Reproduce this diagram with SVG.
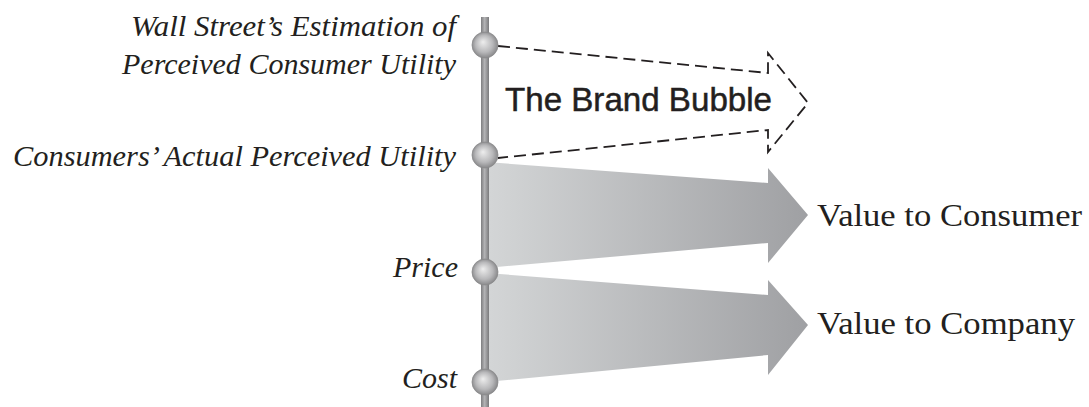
<svg xmlns="http://www.w3.org/2000/svg" width="1089" height="407" viewBox="0 0 1089 407">
  <defs>
    <linearGradient id="arrowGrad" gradientUnits="userSpaceOnUse" x1="490" y1="0" x2="808" y2="0">
      <stop offset="0" stop-color="#d3d5d6"/>
      <stop offset="1" stop-color="#9fa0a3"/>
    </linearGradient>
    <linearGradient id="poleGrad" x1="0" y1="0" x2="1" y2="0">
      <stop offset="0" stop-color="#7d7d7f"/>
      <stop offset="0.45" stop-color="#b3b3b5"/>
      <stop offset="1" stop-color="#7a7a7c"/>
    </linearGradient>
    <radialGradient id="ballGrad" cx="0.5" cy="0.5" r="0.55" fx="0.42" fy="0.38">
      <stop offset="0" stop-color="#eeeeee"/>
      <stop offset="0.6" stop-color="#b8b8ba"/>
      <stop offset="1" stop-color="#7e7e80"/>
    </radialGradient>
  </defs>
  <style>
    .lbl { font-family: "Liberation Serif", "DejaVu Serif", serif; font-style: italic; font-size: 30px; fill: #231f20; }
    .val { font-family: "Liberation Serif", "DejaVu Serif", serif; font-size: 31px; fill: #231f20; }
    .bubble { font-family: "Liberation Sans", Arial, sans-serif; font-size: 33px; fill: #231f20; stroke: #231f20; stroke-width: 0.5; }
    .garrow { fill: url(#arrowGrad); stroke: none; }
    .dash { fill: none; stroke: #231f20; stroke-width: 1.8; stroke-dasharray: 12 6; }
    .ball { fill: url(#ballGrad); stroke: #8a8a8c; stroke-width: 0.8; }
  </style>

  <g id="connectors">
    <polygon id="arrow-consumer" class="garrow" points="486,162 768,183 768,168 808,215 768,263 768,243 486,268"/>
    <polygon id="arrow-company" class="garrow" points="486,273 768,295 768,280 808,325 768,375 768,355 486,382"/>
    <path id="arrow-bubble" class="dash" d="M498,46 L768,73 L768,53 L808,103 L768,152 L768,130 L498,158"/>
  </g>

  <g id="axis">
    <rect x="481" y="17" width="8" height="390" fill="url(#poleGrad)"/>
  </g>

  <g id="node-wallstreet">
    <circle class="ball" cx="485" cy="45" r="13"/>
    <text class="lbl" x="456" y="36" text-anchor="end" textLength="325" lengthAdjust="spacingAndGlyphs">Wall Street’s Estimation of</text>
    <text class="lbl" x="456" y="74" text-anchor="end" textLength="334" lengthAdjust="spacingAndGlyphs">Perceived Consumer Utility</text>
  </g>

  <g id="node-actual">
    <circle class="ball" cx="485" cy="155" r="13"/>
    <text class="lbl" x="456" y="166" text-anchor="end" textLength="443" lengthAdjust="spacingAndGlyphs">Consumers’ Actual Perceived Utility</text>
  </g>

  <g id="node-price">
    <circle class="ball" cx="485" cy="272" r="13"/>
    <text class="lbl" x="458" y="277" text-anchor="end">Price</text>
  </g>

  <g id="node-cost">
    <circle class="ball" cx="485" cy="382" r="13"/>
    <text class="lbl" x="457" y="388" text-anchor="end">Cost</text>
  </g>

  <g id="label-bubble">
    <text class="bubble" x="505" y="111" textLength="267" lengthAdjust="spacingAndGlyphs">The Brand Bubble</text>
  </g>

  <g id="label-consumer">
    <text class="val" x="817" y="226" textLength="265" lengthAdjust="spacingAndGlyphs">Value to Consumer</text>
  </g>

  <g id="label-company">
    <text class="val" x="817" y="334" textLength="258" lengthAdjust="spacingAndGlyphs">Value to Company</text>
  </g>
</svg>
